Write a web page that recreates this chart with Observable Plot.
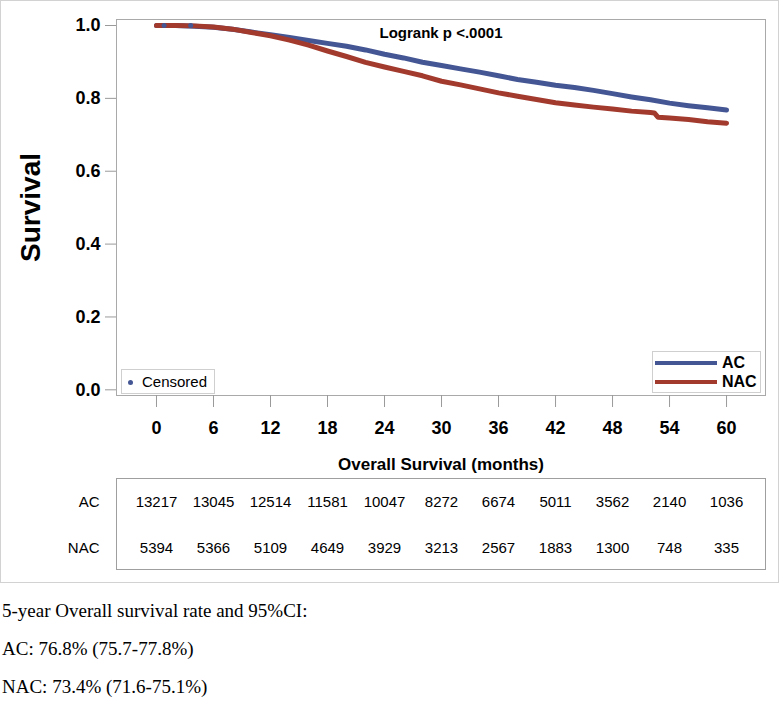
<!DOCTYPE html>
<html>
<head>
<meta charset="utf-8">
<script src="https://cdn.jsdelivr.net/npm/d3@7"></script>
<script src="https://cdn.jsdelivr.net/npm/@observablehq/plot@0.6"></script>
<style>
  html, body { margin: 0; padding: 0; background: #fff; }
  body { position: relative; width: 780px; height: 713px; overflow: hidden; font-family: "Liberation Sans", Arial, sans-serif; }
  .outer { position: absolute; left: 0; top: 0; width: 777px; height: 581px; border: 1px solid #d2d2d2; }
  .abs { position: absolute; }
  .legbox { position: absolute; background: #fff; border: 1px solid #cfcfcf; box-sizing: border-box; }
  .legline { position: absolute; height: 4px; }
  .legtxt { position: absolute; font-weight: bold; font-size: 16px; line-height: 16px; }
  .note { position: absolute; left: 2px; font-family: "Liberation Serif", "Times New Roman", serif; font-size: 19px; line-height: 19px; white-space: nowrap; }
</style>
</head>
<body>
<div class="outer"></div>
<div id="main" class="abs" style="left:0;top:0"></div>
<div id="risk" class="abs" style="left:0;top:476px"></div>
<script>
// ---- data ----
const groups = ["AC", "NAC"];
const colors = ["#445694", "#A23A2E"];

const acTime = [0,2,4,6,8,10,12,14,16,18,20,22,24,26,28,30,32,34,36,38,40,42,44,46,48,50,52,54,56,58,60];
const acSurv = [1.0,1.0,0.998,0.995,0.99,0.982,0.975,0.967,0.959,0.951,0.943,0.933,0.921,0.911,0.899,0.89,0.881,0.872,0.862,0.852,0.844,0.836,0.83,0.822,0.813,0.804,0.796,0.787,0.78,0.774,0.768];

const nacTime = [0,2,4,6,8,10,12,14,16,18,20,22,24,26,28,30,32,34,36,38,40,42,44,46,48,50,52,52.4,52.8,54,56,58,60];
const nacSurv = [1.0,1.0,0.999,0.996,0.99,0.981,0.972,0.96,0.946,0.93,0.915,0.899,0.886,0.874,0.862,0.847,0.837,0.826,0.815,0.806,0.797,0.788,0.782,0.776,0.771,0.765,0.761,0.760,0.748,0.746,0.742,0.736,0.732];

const censorTime = [0.8, 3.6];
const censorSurv = [1.0, 1.0];

const xTicks = [0,6,12,18,24,30,36,42,48,54,60];
const yTicks = [0,0.2,0.4,0.6,0.8,1.0];

const riskTimes = [0,6,12,18,24,30,36,42,48,54,60];
const acRisk = [13217,13045,12514,11581,10047,8272,6674,5011,3562,2140,1036];
const nacRisk = [5394,5366,5109,4649,3929,3213,2567,1883,1300,748,335];

const pText = "Logrank p <.0001";
const yTitle = "Survival";
const xTitle = "Overall Survival (months)";
const censorLabel = "Censored";
const notes = ["5-year Overall survival rate and 95%CI:", "AC: 76.8% (75.7-77.8%)", "NAC: 73.4% (71.6-75.1%)"];

// ---- build tables ----
const acRows = acTime.map((t, i) => ({t, s: acSurv[i]}));
const nacRows = nacTime.map((t, i) => ({t, s: nacSurv[i]}));
const censorRows = censorTime.map((t, i) => ({t, s: censorSurv[i]}));
const riskRows = riskTimes.flatMap((t, i) => [
  {t, group: "AC", n: String(acRisk[i])},
  {t, group: "NAC", n: String(nacRisk[i])}
]);

const xDomain = [-4.21, 64.1];
const font = "Liberation Sans, Arial, sans-serif";

const main = Plot.plot({
  width: 780, height: 476,
  marginLeft: 116, marginRight: 15, marginTop: 19, marginBottom: 81,
  x: {domain: xDomain},
  y: {domain: [-0.0156, 1.0165]},
  style: {fontFamily: font, color: "black", background: "transparent", overflow: "visible"},
  marks: [
    Plot.frame({stroke: "#a9a9a9"}),
    Plot.axisY({ticks: yTicks, tickFormat: d3.format(".1f"), tickSize: 11, tickPadding: 5, fontSize: 18, fontWeight: "bold", stroke: "#9a9a9a", fill: "black", label: null}),
    Plot.axisX({ticks: xTicks, tickSize: 12, tickPadding: 14, fontSize: 18, fontWeight: "bold", stroke: "#9a9a9a", fill: "black", label: null}),
    Plot.line(acRows, {x: "t", y: "s", stroke: colors[0], strokeWidth: 5}),
    Plot.line(nacRows, {x: "t", y: "s", stroke: colors[1], strokeWidth: 5}),
    Plot.dot(censorRows, {x: "t", y: "s", r: 2.5, fill: colors[0]}),
    Plot.text([pText], {frameAnchor: "top", dy: 8, fontSize: 15, fontWeight: "bold"}),
    Plot.text([yTitle], {frameAnchor: "left", textAnchor: "middle", rotate: -90, dx: -85, fontSize: 28, fontWeight: "bold"}),
    Plot.text([xTitle], {frameAnchor: "bottom", dy: 74, fontSize: 17, fontWeight: "bold"})
  ]
});
document.getElementById("main").append(main);

const risk = Plot.plot({
  width: 780, height: 100,
  marginLeft: 116, marginRight: 15, marginTop: 2, marginBottom: 7,
  x: {domain: xDomain, axis: null},
  y: {type: "point", domain: groups, range: [26, 72], padding: 0, axis: null},
  style: {fontFamily: font, color: "black", background: "transparent"},
  marks: [
    Plot.frame({stroke: "#9f9f9f"}),
    Plot.axisY({tickSize: 0, tickPadding: 17, fontSize: 15, label: null}),
    Plot.text(riskRows, {x: "t", y: "group", text: "n", fontSize: 15})
  ]
});
document.getElementById("risk").append(risk);

// ---- legends (HTML overlay) ----
const body = document.body;
function el(cls, styles, text) {
  const d = document.createElement("div");
  d.className = cls;
  Object.assign(d.style, styles);
  if (text != null) d.textContent = text;
  body.append(d);
  return d;
}
// group legend
el("legbox", {left: "652px", top: "351px", width: "109px", height: "42px"});
groups.forEach((g, i) => {
  const y = 361 + i * 19;
  el("legline", {left: "655px", top: y + "px", width: "62px", background: colors[i]});
  el("legtxt", {left: "722px", top: (y - 6) + "px"}, g);
});
// censored legend
el("legbox", {left: "121px", top: "369px", width: "94px", height: "25px"});
el("abs", {left: "128px", top: "380px", width: "5px", height: "5px", borderRadius: "50%", background: colors[0]});
el("abs", {left: "142px", top: "374px", fontSize: "15px", lineHeight: "15px"}, censorLabel);

// notes
notes.forEach((t, i) => el("note", {top: (601 + i * 38) + "px"}, t));
</script>
</body>
</html>
